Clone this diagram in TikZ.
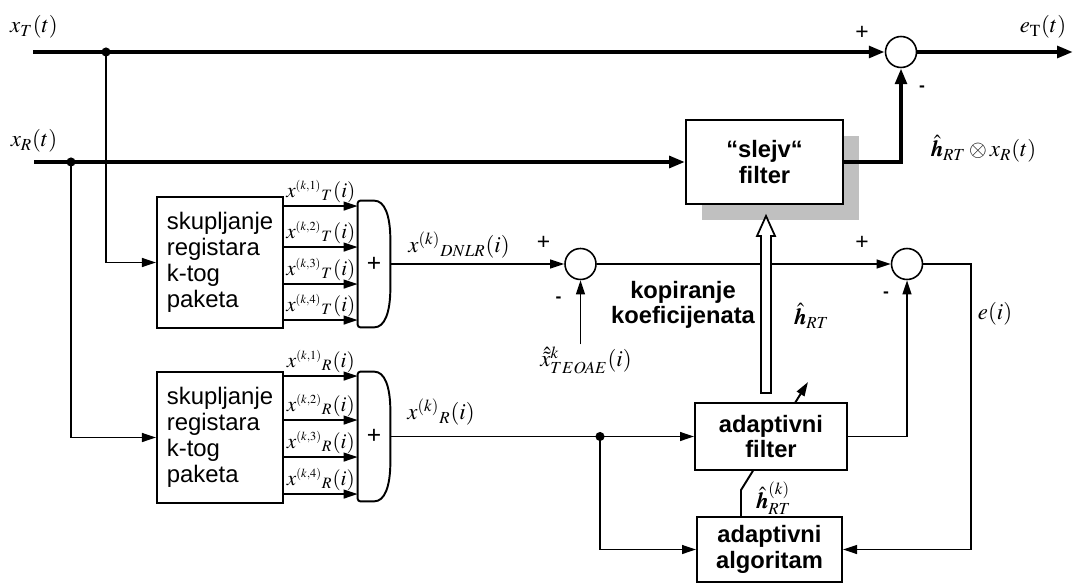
\documentclass[tikz,border=0pt]{standalone}
\usepackage{amsmath}
\usepackage{mathptmx}
\usepackage{fontspec}
\setmainfont{Liberation Serif}
\setsansfont{Liberation Sans}
\usetikzlibrary{positioning,arrows.meta,calc,shadows,backgrounds}
\definecolor{shadowc}{RGB}{192,192,192}
\tikzset{
  block/.style   = {draw, line width=1.1pt, fill=white, align=left, inner sep=4pt,
                    font=\sffamily\fontsize{13.6}{14.8}\selectfont},
  fblock/.style  = {draw, line width=1.1pt, fill=white, align=center, inner sep=2pt,
                    font=\sffamily\bfseries\fontsize{13.5}{14.5}\selectfont},
  note/.style    = {align=center, inner sep=0pt, font=\sffamily\bfseries\fontsize{13.5}{14.5}\selectfont},
  sumnode/.style = {draw, circle, line width=0.9pt, minimum size=0.62cm, inner sep=0pt},
  adder/.style   = {minimum width=0.64cm, inner sep=0pt, font=\sffamily\fontsize{14}{14}\selectfont},
  flow/.style    = {-{Triangle[length=8pt,width=5pt]}, line width=1.1pt},
  bus/.style     = {-{Triangle[length=9pt,width=6.5pt]}, line width=2.3pt},
  lbl/.style     = {font=\fontsize{13}{15}\selectfont, inner sep=1pt},
  slbl/.style    = {font=\fontsize{12}{13}\selectfont, inner sep=0.5pt},
  sgn/.style     = {font=\sffamily\fontsize{13}{13}\selectfont, inner sep=0pt},
}
\newcommand\regsig[2]{$x^{\scriptscriptstyle(k,#1)}{}_{\scriptstyle #2}(i)$}

\begin{document}
\begin{tikzpicture}[x=0.02cm, y=-0.02cm]
\useasboundingbox (0,0) rectangle (1074,584);

% blocks
\node[fblock, minimum width=3.14cm, minimum height=1.68cm,
      drop shadow={fill=shadowc, opacity=1, shadow xshift=0.32cm, shadow yshift=-0.32cm}]
      (slejv) at (764.5,162) {“slejv“\\filter};
\node[block, minimum width=2.52cm, minimum height=2.62cm] (coll1) at (220,262.5)
      {skupljanje\\registara\\k-tog\\paketa};
\node[block, minimum width=2.52cm, minimum height=2.62cm] (coll2) at (220,437.5)
      {skupljanje\\registara\\k-tog\\paketa};
\node[adder, minimum height=2.52cm] (add1) at (374,264) {+};
\node[adder, minimum height=2.58cm] (add2) at (374,436.5) {+};
\node[fblock, minimum width=3.04cm, minimum height=1.34cm] (adf) at (771,436.5) {adaptivni\\filter};
\node[fblock, minimum width=2.9cm, minimum height=1.3cm] (alg) at (769.5,549.5) {adaptivni\\algoritam};
\node[sumnode] (sumT) at (901,52) {};
\node[sumnode] (sum1) at (580.5,264) {};
\node[sumnode] (sum2) at (907,264) {};

% adder outlines
\foreach \a in {add1,add2}
  \draw[line width=1.1pt, rounded corners=1.5pt] (\a.north west) -- ($(\a.north west)+(14,0)$)
    .. controls ($(\a.north east)+(-6,0)$) and ($(\a.north east)+(0,14)$) .. ($(\a.north east)+(0,42)$)
    -- ($(\a.south east)+(0,-42)$)
    .. controls ($(\a.south east)+(0,-14)$) and ($(\a.south east)+(-6,0)$) .. ($(\a.south west)+(14,0)$)
    -- (\a.south west) -- cycle;

% input signals
\coordinate (xTin) at (33,52);
\coordinate (xRin) at (34,162);
\coordinate (jT) at (106,52);
\coordinate (jR) at (71,162);
\node[lbl] (xT) at (34,27) {$x_T(t)$};
\node[lbl] (xR) at (34,141) {$x_R(t)$};
\draw[bus] (xTin) -- (sumT.west);
\draw[bus] (xRin) -- (slejv.west);
\draw[flow] (jT) |- (coll1.west);
\draw[flow] (jR) |- (coll2.west);
\fill (jT) circle (2.6pt) (jR) circle (2.6pt);

% output
\coordinate (eT) at (1073,52);
\draw[bus] (sumT.east) -- (eT);
\node[lbl] (eTl) at (1043,27) {$e_{\mathrm{T}}(t)$};
\draw[bus] (slejv.east) -| (sumT.south);
\node[lbl] (conv) at (984,149) {$\hat{\pmb{h}}_{RT}\otimes x_R(t)$};

% register collectors
\foreach \dy/\k in {10/1,51/2,88/3,124/4}
  \draw[flow] ($(coll1.north east)+(0,\dy)$) coordinate (t\k) -- (t\k -| add1.west)
    node[slbl, pos=0.5, above=1pt] {\regsig{\k}{T}};
\foreach \dy/\k in {5/1,49/2,86/3,123/4}
  \draw[flow] ($(coll2.north east)+(0,\dy)$) coordinate (r\k) -- (r\k -| add2.west)
    node[slbl, pos=0.5, above=1pt] {\regsig{\k}{R}};

% error paths
\draw[flow] (add1.east) -- (sum1.west);
\node[lbl] (dnlr) at (459,245) {$x^{(k)}{}_{DNLR}(i)$};
\node[lbl] (teo) at (586,360) {$\hat{\tilde{x}}^{k}_{TEOAE}(i)$};
\draw[flow] (sum1 |- teo.north) -- (sum1.south);
\draw[flow] (sum1.east) -- (sum2.west);
\coordinate (ecor) at (971,264);
\draw[flow] (sum2.east) -- (ecor) |- (alg.east);
\node[lbl] (el) at (995,314) {$e(i)$};
\draw[flow] (adf.east) -| (sum2.south);

\draw[flow] (add2.east) -- (adf.west);
\node[lbl] (xRk) at (441,412) {$x^{(k)}{}_{R}(i)$};
\coordinate (jA) at (600,436.5);
\draw[flow] (jA) |- (alg.west);
\fill (jA) circle (2.6pt);

% signs
\node[sgn] (pT) at ($(sumT)+(-39,-19)$) {+};
\node[sgn, font=\sffamily\bfseries] (mT) at ($(sumT)+(21,37)$) {-};
\node[sgn] (p1) at ($(sum1)+(-37,-21)$) {+};
\node[sgn, font=\sffamily\bfseries] (m1) at ($(sum1)+(-22,36)$) {-};
\node[sgn] (p2) at ($(sum2)+(-45,-21)$) {+};
\node[sgn, font=\sffamily\bfseries] (m2) at ($(sum2)+(-21,31)$) {-};

% coefficient copy
\coordinate (cpB) at ($(adf.north)+(-5,-9)$);
\coordinate (cpT) at ($(cpB |- slejv.south)+(0,11)$);
\draw[line width=1pt, fill=white] ($(cpB)+(-5,0)$) -- ($(cpT)+(-5,20)$) -- ($(cpT)+(-9,20)$)
  -- (cpT) -- ($(cpT)+(9,20)$) -- ($(cpT)+(5,20)$) -- ($(cpB)+(5,0)$) -- cycle;
\node[note] (kop) at (683,305) {kopiranje\\koeficijenata};
\node[lbl] (hrt) at (812,316) {$\hat{\pmb{h}}_{RT}$};

% adaptation
\begin{scope}[on background layer]
\draw[flow] ($(alg.north)+(-28.5,0)$) -- ++(0,-26) -- ($(adf.north east)+(-40,-20)$);
\end{scope}
\node[lbl] (hk) at (774,498) {$\hat{\pmb{h}}^{(k)}_{RT}$};

\end{tikzpicture}
\end{document}
